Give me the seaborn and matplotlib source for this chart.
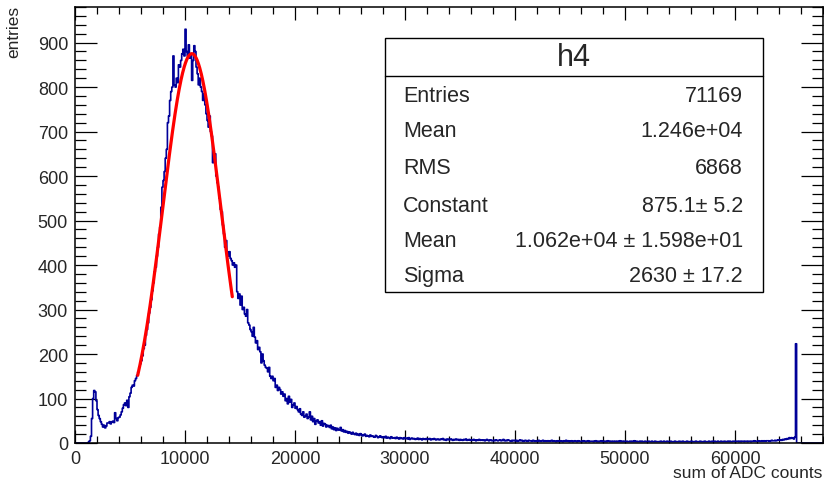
import numpy as np
import pandas as pd
import matplotlib
matplotlib.use("Agg")
import matplotlib.pyplot as plt
from matplotlib.ticker import MultipleLocator
from matplotlib.patches import Rectangle
from matplotlib.lines import Line2D
import seaborn as sns

# ---------------- data ----------------
BIN_LOW = 0
BIN_HIGH = 68000
N_BINS = 680

# counts per 100-ADC bin, 10 bins (1000 ADC) per row
counts = [
    0, 0, 0, 0, 0, 0, 0, 0, 0, 0,
    0, 0, 2, 5, 15, 55, 100, 118, 115, 95,
    75, 62, 55, 48, 42, 36, 40, 34, 38, 45,
    45, 48, 43, 47, 49, 46, 68, 55, 50, 57,
    58, 63, 70, 78, 86, 90, 84, 96, 80, 104,
    112, 125, 130, 128, 140, 145, 152, 160, 170, 178,
    185, 196, 212, 220, 242, 255, 270, 292, 305, 322,
    342, 360, 385, 395, 420, 440, 470, 485, 530, 575,
    590, 610, 640, 660, 720, 735, 770, 790, 800, 870,
    805, 800, 820, 810, 850, 845, 860, 875, 885, 870,
    930, 880, 870, 895, 865, 875, 815, 860, 893, 880,
    845, 830, 805, 820, 800, 790, 770, 785, 760, 740,
    725, 710, 735, 700, 690, 630, 640, 650, 600, 585,
    575, 550, 525, 520, 490, 470, 440, 455, 430, 420,
    430, 415, 410, 400, 405, 395, 400, 340, 325, 335,
    310, 330, 300, 305, 290, 285, 300, 270, 265, 255,
    250, 240, 260, 238, 225, 230, 210, 215, 205, 180,
    200, 185, 175, 170, 168, 160, 170, 150, 145, 150,
    140, 145, 125, 130, 118, 125, 120, 110, 115, 105,
    110, 95, 100, 88, 105, 92, 98, 80, 85, 90,
    78, 82, 75, 70, 77, 65, 62, 70, 58, 60,
    65, 55, 58, 70, 52, 60, 48, 55, 42, 50,
    52, 45, 48, 40, 50, 38, 44, 42, 36, 40,
    38, 35, 40, 32, 36, 30, 34, 28, 33, 30,
    29, 35, 27, 30, 25, 28, 24, 26, 22, 25,
    23, 20, 24, 21, 19, 22, 18, 20, 17, 21,
    19, 16, 18, 20, 15, 17, 16, 14, 18, 15,
    16, 14, 13, 17, 15, 12, 14, 16, 13, 12,
    14, 12, 15, 11, 13, 12, 10, 14, 12, 11,
    12, 10, 13, 11, 9, 12, 10, 11, 9, 12,
    10, 11, 9, 12, 8, 10, 11, 9, 10, 8,
    9, 11, 8, 10, 9, 7, 10, 9, 8, 10,
    8, 9, 10, 7, 9, 8, 10, 8, 7, 9,
    8, 7, 9, 8, 10, 7, 8, 6, 9, 8,
    7, 9, 8, 6, 8, 7, 9, 7, 8, 6,
    8, 7, 6, 8, 7, 9, 6, 7, 8, 6,
    7, 6, 8, 7, 5, 7, 6, 8, 6, 7,
    6, 7, 5, 6, 8, 6, 5, 7, 6, 5,
    6, 5, 7, 6, 5, 6, 7, 5, 6, 8,
    5, 6, 5, 7, 6, 5, 4, 6, 5, 6,
    5, 6, 4, 5, 7, 5, 6, 4, 5, 6,
    5, 4, 6, 5, 5, 4, 6, 5, 4, 5,
    4, 6, 5, 4, 5, 6, 4, 5, 4, 5,
    5, 4, 5, 6, 4, 5, 4, 3, 5, 4,
    4, 5, 4, 3, 5, 4, 6, 4, 5, 3,
    4, 5, 3, 4, 5, 4, 3, 5, 4, 4,
    3, 4, 5, 4, 3, 4, 5, 3, 4, 4,
    4, 3, 4, 5, 3, 4, 3, 4, 5, 3,
    4, 3, 4, 3, 5, 4, 3, 4, 3, 4,
    3, 4, 3, 4, 3, 5, 3, 4, 3, 4,
    3, 4, 3, 3, 4, 3, 4, 3, 5, 3,
    4, 3, 3, 4, 3, 4, 3, 3, 4, 3,
    3, 4, 3, 3, 4, 3, 3, 4, 3, 3,
    3, 3, 4, 3, 3, 4, 3, 3, 4, 3,
    3, 4, 3, 3, 3, 4, 3, 3, 3, 4,
    3, 3, 4, 3, 3, 3, 4, 3, 3, 3,
    4, 3, 3, 3, 4, 3, 3, 3, 4, 3,
    3, 3, 4, 3, 3, 3, 4, 3, 3, 4,
    3, 4, 3, 3, 4, 3, 3, 4, 3, 3,
    4, 3, 3, 4, 3, 4, 3, 3, 4, 4,
    3, 4, 4, 3, 4, 3, 4, 4, 3, 4,
    4, 3, 4, 4, 3, 4, 4, 5, 4, 4,
    4, 5, 4, 4, 5, 4, 5, 4, 5, 5,
    5, 4, 5, 6, 5, 5, 6, 5, 6, 7,
    6, 7, 6, 8, 7, 9, 8, 10, 9, 12,
    10, 12, 11, 9, 13, 223, 0, 0, 0, 0,
    0, 0, 0, 0, 0, 0, 0, 0, 0, 0,
    0, 0, 0, 0, 0, 0, 0, 0, 0, 0,
]

# Gaussian fit parameters and fit range
fit_constant = 875.1
fit_mean = 1.062e4
fit_sigma = 2630.0
fit_range = [5700, 14300]

stats_title = "h4"
stats_labels = ["Entries", "Mean", "RMS", "Constant", "Mean", "Sigma"]
stats_values = ["71169", "1.246e+04", "6868", "875.1\u00b1 5.2",
                "1.062e+04 \u00b1 1.598e+01", "2630 \u00b1 17.2"]

x_label = "sum of ADC counts"
y_label = "entries"

# ---------------- plot ----------------
sns.set_style("white")
plt.rcParams["font.family"] = ["Liberation Sans", "DejaVu Sans"]

W, H = 824, 485
fig = plt.figure(figsize=(W / 100, H / 100), dpi=100)
L, R, T, B = 75, 823, 8, 444
ax = fig.add_axes([L / W, 1 - B / H, (R - L) / W, (B - T) / H])

width = (BIN_HIGH - BIN_LOW) / N_BINS
centers = BIN_LOW + width * (np.arange(N_BINS) + 0.5)
df = pd.DataFrame({"adc": centers, "n": np.asarray(counts, dtype=float)})
sns.histplot(data=df, x="adc", weights="n", bins=N_BINS, binrange=(BIN_LOW, BIN_HIGH),
             element="step", fill=False, color="#000099", linewidth=1.2, ax=ax)

xf = np.linspace(fit_range[0], fit_range[1], 300)
yf = fit_constant * np.exp(-0.5 * ((xf - fit_mean) / fit_sigma) ** 2)
sns.lineplot(x=xf, y=yf, color="#ff0000", linewidth=2.3, ax=ax)

ax.set_xlim(BIN_LOW, BIN_HIGH)
ax.set_ylim(0, 980)
ax.set_xlabel("")
ax.set_ylabel("")

ax.xaxis.set_major_locator(MultipleLocator(10000))
ax.xaxis.set_minor_locator(MultipleLocator(2000))
ax.yaxis.set_major_locator(MultipleLocator(100))
ax.yaxis.set_minor_locator(MultipleLocator(20))
ax.tick_params(which="both", direction="in", top=True, right=True,
               bottom=True, left=True, width=0.9, color="black", labelsize=13)
ax.tick_params(axis="x", which="major", length=9.5, pad=5)
ax.tick_params(axis="x", which="minor", length=4.8)
ax.tick_params(axis="y", which="major", length=16, pad=5)
ax.tick_params(axis="y", which="minor", length=8)
for sp in ax.spines.values():
    sp.set_visible(True)
    sp.set_color("black")
    sp.set_linewidth(1.1)

fig.text(14 / W, 1 - 6 / H, y_label, rotation=90, ha="center", va="top", fontsize=12.5)
fig.text(822 / W, 1 - 474 / H, x_label, ha="right", va="center", fontsize=12.5)

# stats box (in figure pixels)
bx0, bx1, by0, by1, bsep = 385, 763, 39, 293, 77
fig.patches.append(Rectangle((bx0 / W, 1 - by1 / H), (bx1 - bx0) / W, (by1 - by0) / H,
                             transform=fig.transFigure, facecolor="white",
                             edgecolor="black", linewidth=1.0, zorder=5))
fig.lines.append(Line2D([bx0 / W, bx1 / W], [1 - bsep / H, 1 - bsep / H],
                        transform=fig.transFigure, color="black", linewidth=1.0, zorder=6))
fig.text((bx0 + bx1) / 2 / W, 1 - 58 / H, stats_title, ha="center", va="center",
         fontsize=22, zorder=7)
row_y = [97, 132, 169, 206, 242, 277]
for lab, val, yy in zip(stats_labels, stats_values, row_y):
    fig.text(403 / W, 1 - yy / H, lab, ha="left", va="center", fontsize=15.5, zorder=7)
    fig.text(743 / W, 1 - yy / H, val, ha="right", va="center", fontsize=15.5, zorder=7)

fig.savefig("out.png", dpi=100, facecolor="white")
